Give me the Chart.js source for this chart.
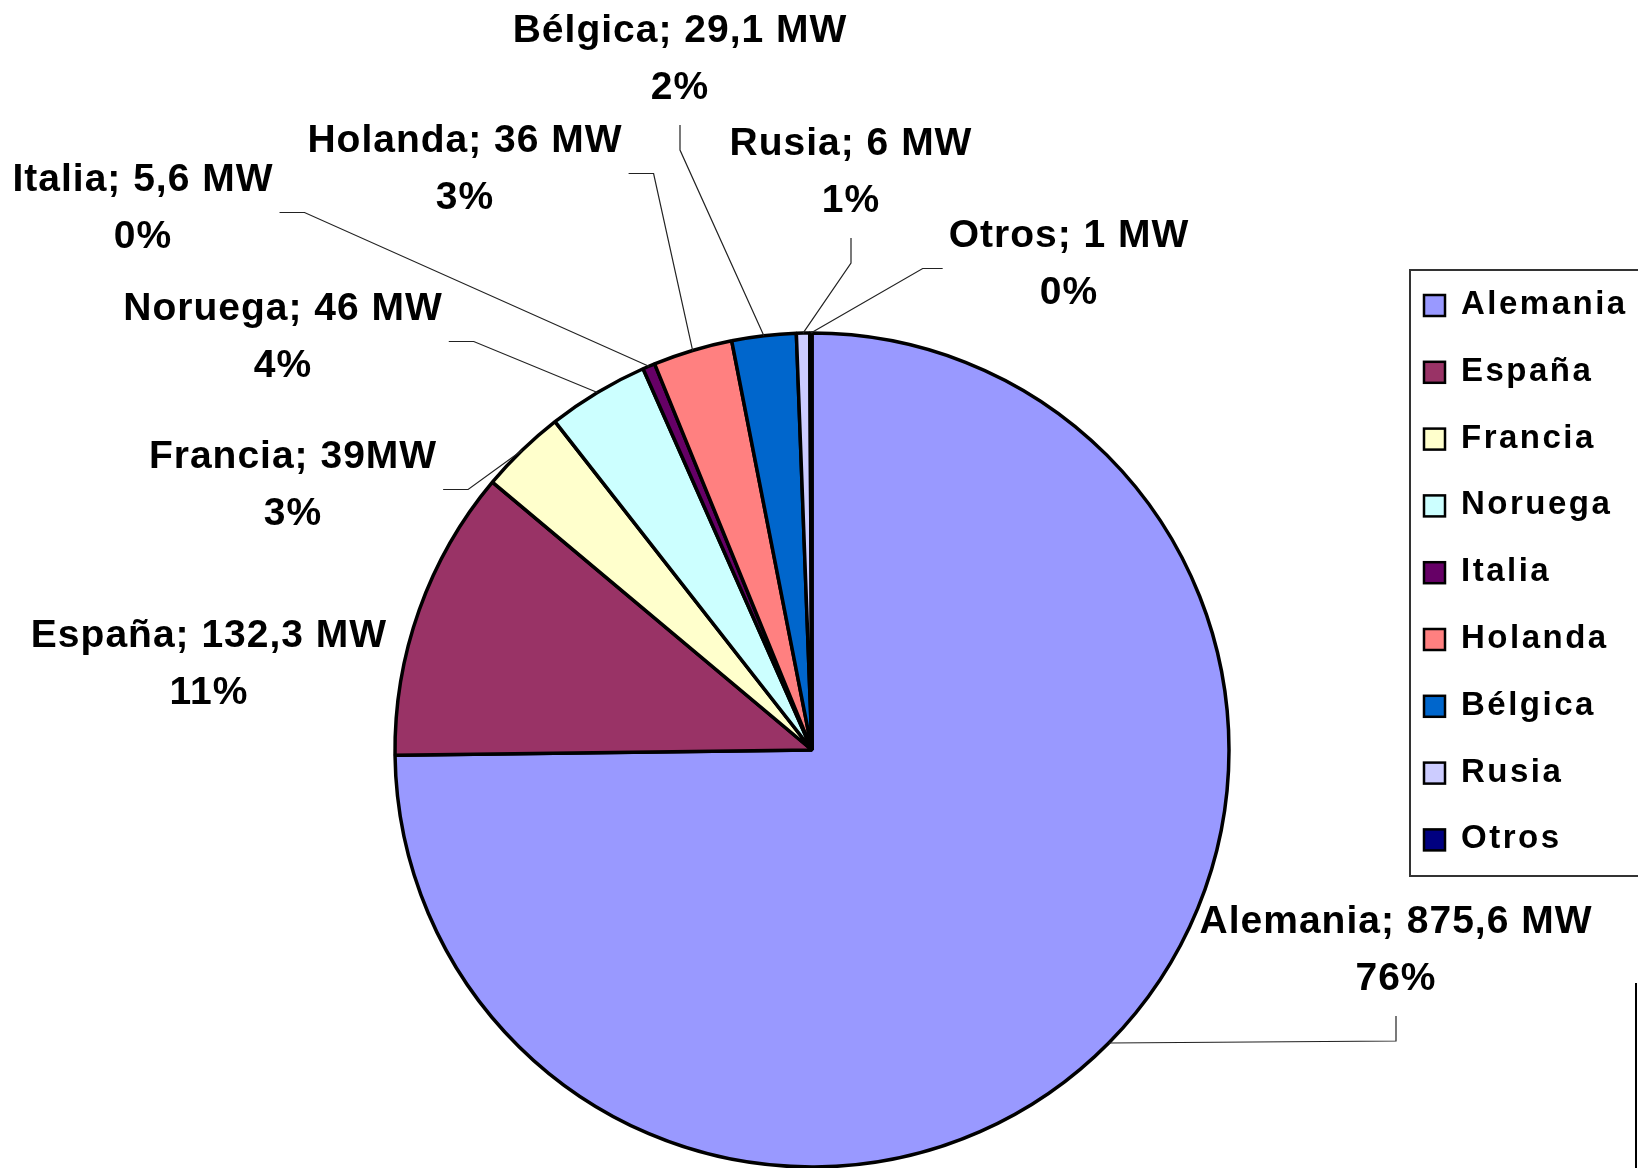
<!DOCTYPE html>
<html>
<head>
<meta charset="utf-8">
<script src="https://cdn.jsdelivr.net/npm/chart.js@4.4.0/dist/chart.umd.min.js"></script>
<style>
  body { margin: 0; background: #fff; overflow: hidden; }
  #wrap { position: relative; width: 1638px; height: 1168px; }
</style>
</head>
<body>
<div id="wrap"><canvas id="myChart"></canvas></div>
<script>
// data
const categories = ['Alemania', 'España', 'Francia', 'Noruega', 'Italia', 'Holanda', 'Bélgica', 'Rusia', 'Otros'];
const capacityMW = [875.6, 132.3, 39, 46, 5.6, 36, 29.1, 6, 1];
const valueLabels = ['875,6 MW', '132,3 MW', '39MW', '46 MW', '5,6 MW', '36 MW', '29,1 MW', '6 MW', '1 MW'];
const percentLabels = ['76%', '11%', '3%', '4%', '0%', '3%', '2%', '1%', '0%'];

const sliceColors = ['#9999FF', '#993366', '#FFFFCC', '#CCFFFF', '#660066', '#FF8080', '#0066CC', '#CCCCFF', '#000080'];

// label placement (centre of first text line) and where the leader line attaches
const labelSpots = [
    {x: 1396, y: 922, side: 'bottom'},
    {x: 209, y: 636, side: 'none'},
    {x: 293, y: 457, side: 'right'},
    {x: 283, y: 309, side: 'right'},
    {x: 143, y: 180, side: 'right'},
    {x: 465, y: 141, side: 'right'},
    {x: 680, y: 31, side: 'bottom'},
    {x: 851, y: 144, side: 'bottom'},
    {x: 1069, y: 236, side: 'left'}
];
const lineGap = 57;
const labelFont = 'bold 39px "Liberation Sans", Arial, sans-serif';
const legendFont = 'bold 33px "Liberation Sans", Arial, sans-serif';

const dataLabelPlugin = {
    id: 'dataLabels',
    afterDatasetsDraw: function(chart) {
        let ctx = chart.ctx;
        let arcs = chart.getDatasetMeta(0).data;
        ctx.save();
        ctx.font = labelFont;
        ctx.letterSpacing = '1px';
        ctx.textAlign = 'center';
        ctx.textBaseline = 'middle';
        arcs.forEach(function(arc, i) {
            let spot = labelSpots[i];
            let line1 = categories[i] + '; ' + valueLabels[i];
            let y2 = spot.y + lineGap;
            let half = ctx.measureText(line1).width / 2;
            let p = arc.getProps(['x', 'y', 'startAngle', 'endAngle', 'outerRadius'], true);
            let mid = (p.startAngle + p.endAngle) / 2;
            let ax = p.x + Math.cos(mid) * p.outerRadius;
            let ay = p.y + Math.sin(mid) * p.outerRadius;
            let end = null, elbow = null;
            if (spot.side === 'bottom') {
                end = [spot.x, y2 + 37];
                elbow = [spot.x, y2 + 62];
            } else if (spot.side === 'right') {
                end = [spot.x + half + 6, (spot.y + y2) / 2 + 4];
                elbow = [end[0] + 25, end[1]];
            } else if (spot.side === 'left') {
                end = [spot.x - half - 6, (spot.y + y2) / 2 + 4];
                elbow = [end[0] - 20, end[1]];
            }
            if (end) {
                ctx.beginPath();
                ctx.strokeStyle = '#222';
                ctx.lineWidth = 1.2;
                ctx.moveTo(ax, ay);
                ctx.lineTo(elbow[0], elbow[1]);
                ctx.lineTo(end[0], end[1]);
                ctx.stroke();
            }
            ctx.fillStyle = '#000';
            ctx.fillText(line1, spot.x, spot.y);
            ctx.fillText(percentLabels[i], spot.x, y2);
        });
        ctx.restore();
    }
};

const legendPlugin = {
    id: 'boxLegend',
    afterDraw: function(chart) {
        let ctx = chart.ctx;
        let colors = chart.data.datasets[0].backgroundColor;
        ctx.save();
        // legend frame, runs off the right edge like in the original
        ctx.strokeStyle = '#333';
        ctx.lineWidth = 2;
        ctx.strokeRect(1410, 270, 400, 606);
        ctx.font = legendFont;
        ctx.letterSpacing = '2.5px';
        ctx.textAlign = 'left';
        ctx.textBaseline = 'middle';
        chart.data.labels.forEach(function(name, i) {
            let y = 305 + i * 66.8;
            ctx.fillStyle = colors[i];
            ctx.fillRect(1424, y - 10, 21, 21);
            ctx.strokeStyle = '#000';
            ctx.lineWidth = 2.5;
            ctx.strokeRect(1424, y - 10, 21, 21);
            ctx.fillStyle = '#000';
            ctx.fillText(name, 1461, y);
        });
        // stray frame edge at bottom right
        ctx.beginPath();
        ctx.strokeStyle = '#000';
        ctx.lineWidth = 2;
        ctx.moveTo(1636, 983);
        ctx.lineTo(1636, 1168);
        ctx.stroke();
        ctx.restore();
    }
};

const config = {
    type: 'pie',
    data: {
        labels: categories,
        datasets: [{
            data: capacityMW,
            backgroundColor: sliceColors,
            borderColor: '#000',
            borderWidth: 3.5
        }]
    },
    options: {
        responsive: true,
        maintainAspectRatio: false,
        animation: false,
        radius: 417,
        layout: {padding: {top: 332, bottom: 0, left: 0, right: 14}},
        plugins: {
            legend: {display: false},
            tooltip: {enabled: false}
        }
    },
    plugins: [dataLabelPlugin, legendPlugin]
};

var myChart = new Chart(document.getElementById('myChart'), config);
</script>
</body>
</html>
